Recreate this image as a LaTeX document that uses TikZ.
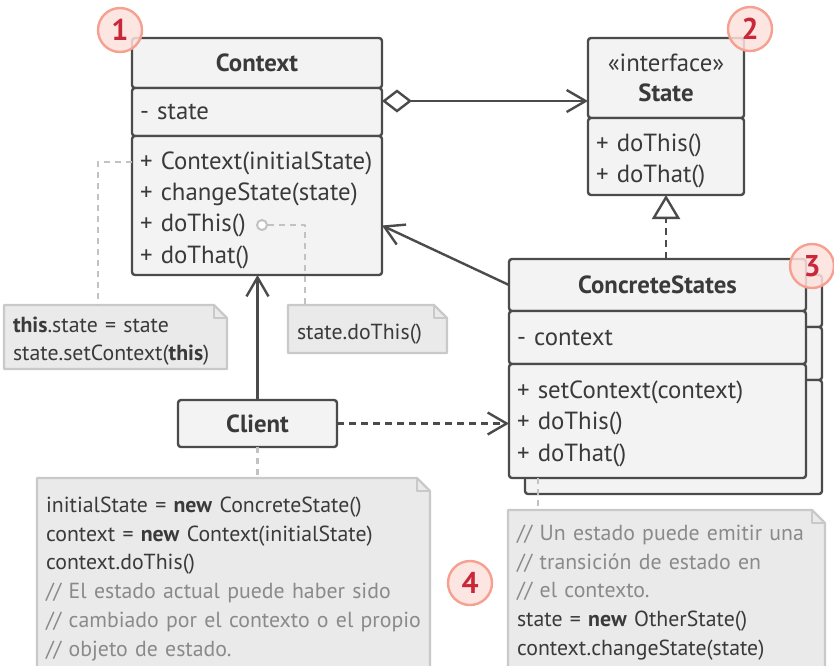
\documentclass[tikz,border=0pt]{standalone}
\usepackage{fontspec}
\setmainfont{PT Sans}
\usetikzlibrary{arrows.meta, positioning, calc}
\definecolor{cline}{HTML}{4b4b4b}
\definecolor{ctext}{HTML}{3a3a3a}
\definecolor{cbox}{HTML}{f3f3f3}
\definecolor{cnote}{HTML}{eaeaea}
\definecolor{cnoteline}{HTML}{c9c9c9}
\definecolor{clink}{HTML}{c2c2c2}
\definecolor{ccomment}{HTML}{8a8a8a}
\definecolor{cbadge}{HTML}{fde1dc}
\definecolor{cbadgeline}{HTML}{f5a090}
\definecolor{cnum}{HTML}{c8283a}
\newcommand\cmt[1]{\textcolor{ccomment}{#1}}
% folded corner of a note
\newcommand\notecorner[1]{%
  \fill[white] ([xshift=-13pt]#1.north east) -- (#1.north east) -- ([yshift=-13pt]#1.north east) -- cycle;
  \draw[noteline] ([xshift=-13pt]#1.north east) -- (#1.north west) -- (#1.south west)
    -- (#1.south east) -- ([yshift=-13pt]#1.north east) -- cycle;
  \draw[noteline] ([xshift=-13pt]#1.north east) |- ([yshift=-13pt]#1.north east);}

\begin{document}
\begin{tikzpicture}[
  x=1pt, y=-1pt,
  line join=round,
  cls/.style={draw=cline, fill=cbox, line width=2.4pt, rounded corners=3pt,
              inner xsep=8pt, inner ysep=0pt, outer sep=0pt, text=ctext},
  hdr/.style={cls, align=center, font=\fontsize{24.8}{30}\selectfont},
  sect/.style={cls, align=left, text width=#1, font=\fontsize{24.8}{31.4}\selectfont},
  push/.style={execute at begin node={\rule{0pt}{#1}}},
  note/.style={fill=cnote, align=left, text width=#1, inner xsep=9pt, inner ysep=14pt,
               outer sep=0pt, text=ctext, font=\fontsize{21.8}{28.7}\selectfont},
  noteline/.style={draw=cnoteline, line width=2.4pt},
  link/.style={draw=clink, line width=2.4pt, dash pattern=on 6pt off 5pt},
  arr/.style={draw=cline, line width=2.4pt, -{Straight Barb[length=19pt, width=22pt]}},
  dep/.style={arr, dash pattern=on 7pt off 5pt},
  aggr/.style={draw=cline, line width=2.4pt,
               {Diamond[open, length=30pt, width=23pt]}-{Straight Barb[length=19pt, width=22pt]}},
  real/.style={draw=cline, line width=2.4pt, dash pattern=on 7pt off 5pt,
               -{Triangle[open, length=24pt, width=28pt]}},
  badge/.style={circle, draw=cbadgeline, fill=cbadge, fill opacity=0.85, text opacity=1,
                line width=2.4pt, minimum size=44pt, inner sep=0pt, text=cnum,
                font=\fontsize{30}{30}\selectfont\bfseries},
  ]
\useasboundingbox (0,0) rectangle (834,665);
\clip (0,0) rectangle (834,665);
% ---- Context
\node[hdr, minimum width=250pt, minimum height=50pt] (ctxh) at (257,63) {\textbf{Context}};
\node[sect=234pt, minimum height=48pt, below=0pt of ctxh] (ctxa) {- state};
\node[sect=234pt, push=27pt, minimum height=139pt, below=0pt of ctxa] (ctxm)
  {+ Context(initialState)\\+ changeState(state)\\+ doThis()\\+ doThat()};
% ---- State
\node[hdr, minimum width=156pt, minimum height=80pt] (sth) at (666,78) {«interface»\\\textbf{State}};
\node[sect=140pt, push=27pt, minimum height=77pt, below=0pt of sth] (stm) {+ doThis()\\+ doThat()};
% ---- ConcreteStates (back copy, then front)
\node[cls, minimum width=297pt, minimum height=52pt] (cbh) at (673.5,301) {};
\node[cls, minimum width=297pt, minimum height=53pt, below=0pt of cbh] (cba) {};
\node[cls, minimum width=297pt, minimum height=114pt, below=0pt of cba] (cbm) {};
\node[hdr, minimum width=297pt, minimum height=52pt] (csh) at (657.5,285) {\textbf{ConcreteStates}};
\node[sect=281pt, minimum height=53pt, below=0pt of csh] (csa) {- context};
\node[sect=281pt, push=23pt, minimum height=114pt, below=0pt of csa] (csm)
  {+ setContext(context)\\+ doThis()\\+ doThat()};
% ---- Client
\node[hdr, minimum width=159pt, minimum height=47pt] (cli) at (257.5,423.5) {\textbf{Client}};
% ---- notes
\node[note=205pt, push=24pt, minimum height=64pt, inner ysep=2pt] (n1) at (115.5,337)
  {\textbf{this}.state = state\\state.setContext(\textbf{this})};
\notecorner{n1}
\node[note=141pt, push=26pt, minimum height=48pt, inner ysep=2pt] (n2) at (367.5,329) {state.doThis()};
\notecorner{n2}
\node[note=375pt, anchor=north west, inner ysep=19pt] (n3) at (37,478)
  {initialState = \textbf{new} ConcreteState()\\
   context = \textbf{new} Context(initialState)\\
   context.doThis()\\
   \cmt{// El estado actual puede haber sido}\\
   \cmt{// cambiado por el contexto o el propio}\\
   \cmt{// objeto de estado.}};
\notecorner{n3}
\node[note=299pt, anchor=north west, inner ysep=15pt] (n4) at (508,510)
  {\cmt{// Un estado puede emitir una}\\
   \cmt{// transición de estado en}\\
   \cmt{// el contexto.}\\
   state = \textbf{new} OtherState()\\
   context.changeState(state)};
\notecorner{n4}
% ---- note links
\node[circle, draw=clink, fill=white, line width=2pt, minimum size=10pt, inner sep=0pt] (dot) at (262,225) {};
\draw[link] ([yshift=-26pt]ctxm.north west) -| ([xshift=94pt]n1.north west);
\draw[link] (dot) -| ([xshift=17pt]n2.north west);
\draw[link] (cli.south) -- (cli.south |- n3.north);
\draw[link] ([xshift=29pt]csm.south west) -- ([xshift=29pt]csm.south west |- n4.north);
% ---- relations
\draw[aggr] ([yshift=11pt]ctxa.east) coordinate (ag) -- (sth.west |- ag);
\draw[real] (csh.north -| stm.south) -- (stm.south);
\draw[arr] (csh.west) -- ([yshift=-20pt]ctxm.east);
\draw[arr] (cli.north) -- (cli.north |- ctxm.south);
\draw[dep] (cli.east) -- (cli.east -| csm.west);
% ---- badges
\node[badge] (b1) at (120,30) {1};
\node[badge] (b2) at (750,29) {2};
\node[badge] (b3) at (812,266) {3};
\node[badge] (b4) at (470,583) {4};
\end{tikzpicture}
\end{document}
